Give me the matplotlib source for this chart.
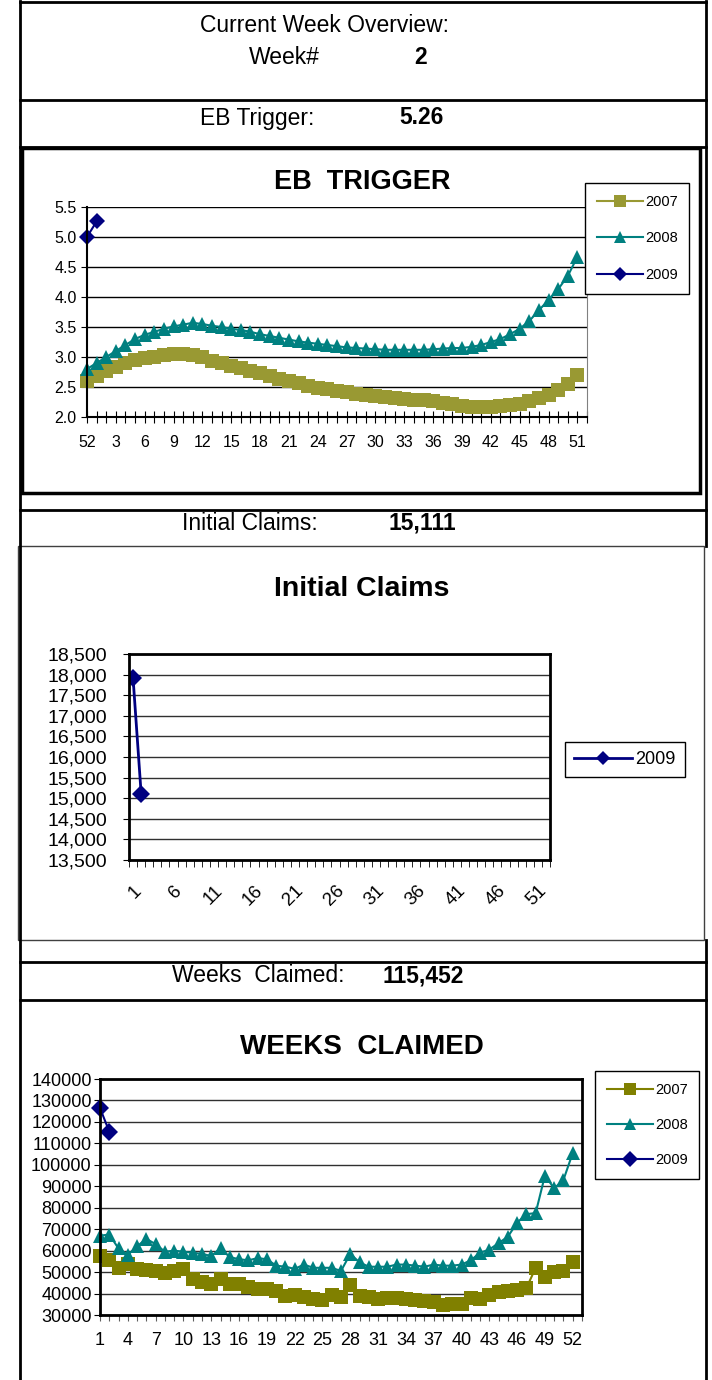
import numpy as np
import matplotlib.pyplot as plt
from matplotlib.lines import Line2D
from matplotlib.patches import Rectangle
from matplotlib.ticker import FuncFormatter

plt.rcParams['font.family'] = ['Liberation Sans', 'DejaVu Sans']

W, H = 712, 1380

# header values
week_no = '2'
eb_trigger = '5.26'
initial_claims = '15,111'
weeks_claimed = '115,452'

# EB trigger chart (week 52 of prior year, then 1..51)
eb_weeks = ['52'] + [str(i) for i in range(1, 52)]
eb_2007 = [2.60, 2.68, 2.76, 2.84, 2.90, 2.95, 2.98, 3.00, 3.03, 3.05,
           3.05, 3.03, 3.00, 2.94, 2.90, 2.85, 2.81, 2.77, 2.73, 2.69,
           2.64, 2.60, 2.56, 2.52, 2.49, 2.46, 2.43, 2.41, 2.39, 2.37,
           2.35, 2.33, 2.31, 2.30, 2.29, 2.28, 2.26, 2.24, 2.21, 2.18,
           2.17, 2.17, 2.17, 2.18, 2.20, 2.22, 2.26, 2.31, 2.37, 2.45,
           2.55, 2.70]
eb_2008 = [2.80, 2.90, 3.00, 3.10, 3.20, 3.30, 3.37, 3.42, 3.47, 3.51,
           3.54, 3.57, 3.55, 3.52, 3.50, 3.47, 3.45, 3.42, 3.38, 3.35,
           3.32, 3.29, 3.26, 3.24, 3.22, 3.20, 3.18, 3.16, 3.15, 3.14,
           3.13, 3.12, 3.12, 3.12, 3.12, 3.12, 3.13, 3.14, 3.15, 3.15,
           3.17, 3.20, 3.25, 3.30, 3.38, 3.47, 3.60, 3.78, 3.95, 4.13,
           4.35, 4.67]
eb_2009 = [5.00, 5.26]

# Initial claims chart
ic_weeks = [str(i) for i in range(1, 53)]
ic_2009 = [17920, 15111]

# Weeks claimed chart
wc_weeks = [str(i) for i in range(1, 53)]
wc_2007 = [57500, 55500, 52000, 54000, 51500, 51000, 50500, 49500, 50500, 51500,
           47000, 45500, 44500, 47000, 44500, 44500, 43000, 42000, 42000, 41000,
           39000, 39500, 38500, 37500, 37000, 39500, 38500, 44000, 39000, 38500,
           37500, 38000, 38000, 37500, 37000, 36500, 36000, 34500, 35000, 35000,
           38000, 37500, 39500, 40500, 41000, 41500, 42500, 52000, 47500, 50000,
           50500, 54500]
wc_2008 = [67000, 67500, 61000, 58000, 62000, 65500, 63000, 59500, 60000, 59500,
           59000, 58500, 57500, 61000, 57000, 56000, 55500, 56500, 56000, 53000,
           52500, 51500, 53500, 52000, 52000, 52000, 50500, 58500, 54500, 52500,
           52500, 52500, 53500, 53500, 53000, 52500, 53500, 53000, 53000, 53500,
           55500, 59000, 60500, 63500, 66500, 73000, 77000, 77500, 95000, 89000,
           93000, 105500]
wc_2009 = [126500, 115452]

OLIVE_LT = '#999933'
OLIVE = '#808000'
TEAL = '#008080'
NAVY = '#000080'

fig = plt.figure(figsize=(W / 100, H / 100), dpi=100)


def fx(x):
    return x / W


def fy(y):
    return 1 - y / H


def rect(l, t, r, b):
    return [l / W, 1 - b / H, (r - l) / W, (b - t) / H]


def hline(x0, x1, y, lw=1.5, c='black'):
    fig.add_artist(Line2D([fx(x0), fx(x1)], [fy(y), fy(y)], lw=lw, color=c))


def vline(x, y0, y1, lw=1.5, c='black'):
    fig.add_artist(Line2D([fx(x), fx(x)], [fy(y0), fy(y1)], lw=lw, color=c))


def text(x, y, s, size=16.5, bold=False):
    fig.text(fx(x), fy(y), s, ha='left', va='center', fontsize=size,
             fontweight='bold' if bold else 'normal')


# page borders
vline(20, 1, 1380, lw=2)
vline(706, 1, 546, lw=2)
vline(706, 940, 1380, lw=2)
hline(20, 706, 2, lw=2)
hline(20, 706, 100, lw=2)
hline(20, 706, 147, lw=2)
hline(20, 706, 510, lw=2)
hline(20, 706, 962, lw=2)
hline(20, 706, 1000, lw=2)
fig.add_artist(Rectangle((fx(22), fy(493)), (700 - 22) / W, (493 - 148) / H,
                         transform=fig.transFigure, fill=False, lw=2.5, ec='black'))
fig.add_artist(Rectangle((fx(18), fy(940)), (704 - 18) / W, (940 - 546) / H,
                         transform=fig.transFigure, fill=False, lw=1, ec='#404040'))

# header texts
text(200, 25, 'Current Week Overview:')
text(249, 57, 'Week#')
text(414, 57, week_no, bold=True)
text(200, 118, 'EB Trigger:')
text(399, 118, eb_trigger, bold=True)
text(182, 523, 'Initial Claims:')
text(388, 523, initial_claims, bold=True)
text(172, 976, 'Weeks  Claimed:')
text(382, 976, weeks_claimed, bold=True)

# ---------------- EB TRIGGER ----------------
ax1 = fig.add_axes(rect(87, 207, 587, 417))
x1 = np.arange(len(eb_weeks))
ax1.plot(x1, eb_2007, color=OLIVE_LT, marker='s', ms=10, mew=0, lw=1.5, clip_on=False, label='2007')
ax1.plot(x1, eb_2008, color=TEAL, marker='^', ms=10, mew=0, lw=1.5, clip_on=False, label='2008')
ax1.plot(x1[:len(eb_2009)], eb_2009, color=NAVY, marker='D', ms=8, mew=0, lw=1.5, clip_on=False, label='2009')
ax1.set_xlim(0, 52)
ax1.set_ylim(2.0, 5.5)
ax1.set_yticks(np.arange(2.0, 5.51, 0.5))
ax1.yaxis.set_major_formatter(FuncFormatter(lambda v, p: f'{v:.1f}'))
ax1.set_xticks(np.arange(53))
ax1.set_xticklabels([eb_weeks[i] if (i < len(eb_weeks) and i % 3 == 0) else '' for i in range(53)])
ax1.tick_params(axis='x', direction='inout', length=8, labelsize=11.5, pad=9)
ax1.tick_params(axis='y', direction='out', length=4, labelsize=11.5)
ax1.grid(axis='y', color='black', lw=1)
ax1.set_axisbelow(True)
ax1.spines['top'].set_visible(False)
ax1.spines['right'].set_color('#808080')
for s in ('left', 'bottom'):
    ax1.spines[s].set_linewidth(1.5)
fig.text(fx(362), fy(182), 'EB  TRIGGER', ha='center', va='center', fontsize=19.5, fontweight='bold')
h, l = ax1.get_legend_handles_labels()
fig.legend(h, l, loc='upper left', bbox_to_anchor=(fx(585), fy(183)), fontsize=10.5,
           frameon=True, fancybox=False, edgecolor='black', framealpha=1, borderaxespad=0,
           labelspacing=1.55, handlelength=3.2, borderpad=0.8, handletextpad=0.1, markerscale=0.85)

# ---------------- Initial Claims ----------------
ax2 = fig.add_axes(rect(129, 654, 550, 860))
x2 = np.arange(1, len(ic_weeks) + 1)
ax2.plot(x2[:len(ic_2009)], ic_2009, color=NAVY, marker='D', ms=9, mew=0, lw=2, label='2009')
ax2.set_xlim(0.5, len(ic_weeks) + 0.5)
ax2.set_ylim(13500, 18500)
ax2.set_yticks(np.arange(13500, 18501, 500))
ax2.yaxis.set_major_formatter(FuncFormatter(lambda v, p: f'{int(v):,}'))
ax2.set_xticks(x2[::5])
ax2.set_xticklabels(ic_weeks[::5], rotation=45, ha='right', va='top', rotation_mode='anchor')
ax2.set_xticks(np.arange(0.5, len(ic_weeks) + 1, 1), minor=True)
ax2.tick_params(axis='x', which='major', length=0, labelsize=13.5, pad=16)
ax2.tick_params(axis='x', which='minor', direction='out', length=5)
ax2.tick_params(axis='y', direction='out', length=4, labelsize=14, pad=12)
ax2.grid(axis='y', color='#303030', lw=1)
ax2.set_axisbelow(True)
for s in ax2.spines.values():
    s.set_linewidth(2)
fig.text(fx(362), fy(589), 'Initial Claims', ha='center', va='center', fontsize=20.5, fontweight='bold')
h, l = ax2.get_legend_handles_labels()
fig.legend(h, l, loc='upper left', bbox_to_anchor=(fx(565), fy(742)), fontsize=13,
           frameon=True, fancybox=False, edgecolor='black', framealpha=1, borderaxespad=0,
           handlelength=3.2, borderpad=0.5, handletextpad=0.2, markerscale=0.8)

# ---------------- WEEKS CLAIMED ----------------
ax3 = fig.add_axes(rect(100, 1079, 582, 1315))
x3 = np.arange(1, len(wc_weeks) + 1)
ax3.plot(x3, wc_2007, color=OLIVE, marker='s', ms=10, mew=0, lw=1.5, clip_on=False, label='2007')
ax3.plot(x3, wc_2008, color=TEAL, marker='^', ms=10, mew=0, lw=1.5, clip_on=False, label='2008')
ax3.plot(x3[:len(wc_2009)], wc_2009, color=NAVY, marker='D', ms=9, mew=0, lw=1.5, clip_on=False, label='2009')
ax3.set_xlim(1, 53)
ax3.set_ylim(30000, 140000)
ax3.set_yticks(np.arange(30000, 140001, 10000))
ax3.set_xticks(np.arange(1, 54))
ax3.set_xticklabels([str(i) if (i - 1) % 3 == 0 and i <= 52 else '' for i in range(1, 54)])
ax3.tick_params(axis='x', direction='out', length=4, color='#606060', labelsize=13, pad=8)
ax3.tick_params(axis='y', direction='out', length=4, labelsize=13, pad=2)
ax3.grid(axis='y', color='#303030', lw=1)
ax3.set_axisbelow(True)
for s in ax3.spines.values():
    s.set_linewidth(2)
fig.text(fx(362), fy(1047), 'WEEKS  CLAIMED', ha='center', va='center', fontsize=20, fontweight='bold')
h, l = ax3.get_legend_handles_labels()
fig.legend(h, l, loc='upper left', bbox_to_anchor=(fx(595), fy(1071)), fontsize=10.5,
           frameon=True, fancybox=False, edgecolor='black', framealpha=1, borderaxespad=0,
           labelspacing=1.45, handlelength=3.2, borderpad=0.8, handletextpad=0.1, markerscale=0.85)

fig.savefig('out.png', dpi=100)
